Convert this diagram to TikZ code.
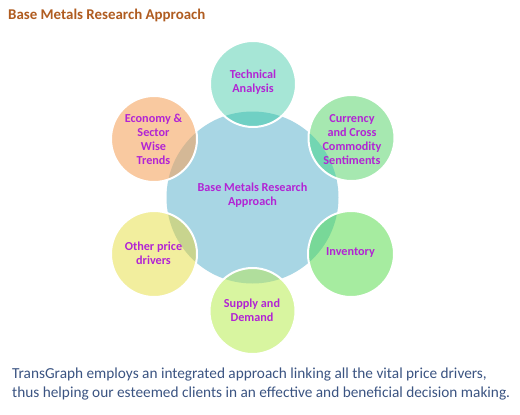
\documentclass[tikz,border=0pt]{standalone}
\usepackage{fontspec}
\setmainfont{Carlito}
\definecolor{cfill}{RGB}{168,214,228}
\definecolor{tfill}{RGB}{166,230,214}
\definecolor{tov}{RGB}{112,208,196}
\definecolor{cufill}{RGB}{166,232,176}
\definecolor{cuov}{RGB}{114,214,178}
\definecolor{ifill}{RGB}{166,236,160}
\definecolor{iov}{RGB}{120,216,152}
\definecolor{sfill}{RGB}{216,245,160}
\definecolor{sov}{RGB}{176,222,156}
\definecolor{ofill}{RGB}{242,238,158}
\definecolor{oov}{RGB}{200,212,142}
\definecolor{efill}{RGB}{249,201,160}
\definecolor{eov}{RGB}{212,184,150}
\definecolor{labcol}{RGB}{178,36,212}
\definecolor{titlecol}{RGB}{176,92,32}
\definecolor{bodycol}{RGB}{59,84,130}
\tikzset{
  lab/.style={align=center, text=labcol, font=\fontsize{12.2}{13.8}\selectfont\bfseries, inner sep=0pt},
  satborder/.style={draw=white, line width=2pt},
}
\begin{document}
\begin{tikzpicture}[x=1pt,y=-1pt]
\fill[white] (0,0) rectangle (520,415);
\useasboundingbox (0,0) rectangle (520,415);
\coordinate (cc) at (252.5,197.5);
\fill[cfill] (cc) circle[radius=86pt];
% satellites
\foreach \p/\f/\o in {{(253,84)}/tfill/tov, {(351.5,138)}/cufill/cuov, {(351,254)}/ifill/iov, {(252.5,311)}/sfill/sov, {(154,254)}/ofill/oov, {(154,139)}/efill/eov}{
  \fill[\f] \p circle[radius=43pt];
  \begin{scope}
    \clip \p circle[radius=43pt];
    \fill[\o] (cc) circle[radius=86pt];
  \end{scope}
  \draw[satborder] \p circle[radius=43pt];
}
\node[lab] (center) at (252.5,195.5) {Base Metals Research\\Approach};
\node[lab] (tech) at (253,82) {Technical\\Analysis};
\node[lab] (curr) at (352,139.5) {Currency\\and Cross\\Commodity\\Sentiments};
\node[lab] (inv) at (350.5,253) {Inventory};
\node[lab] (supp) at (252,310) {Supply and\\Demand};
\node[lab] (oth) at (153.5,253.5) {Other price\\drivers};
\node[lab] (econ) at (153.5,139.5) {Economy \&\\Sector\\Wise\\Trends};
\node[anchor=west, text=titlecol, font=\fontsize{14.9}{17}\selectfont\bfseries, inner sep=0pt] (title) at (8,15) {Base Metals Research Approach};
\node[anchor=base west, align=left, text=bodycol, font=\fontsize{15.3}{19}\selectfont, inner sep=0pt] (body) at (12,397) {TransGraph employs an integrated approach linking all the vital price drivers,\\thus helping our esteemed clients in an effective and beneficial decision making.};
\end{tikzpicture}
\end{document}
